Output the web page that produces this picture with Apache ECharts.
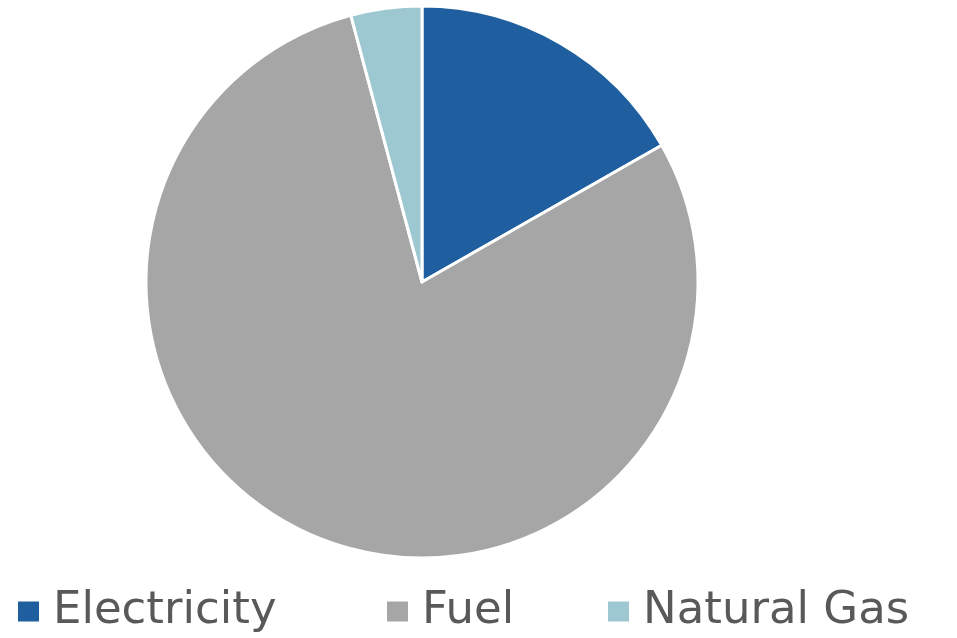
<!DOCTYPE html>
<html>
<head>
<meta charset="utf-8">
<script src="https://cdn.jsdelivr.net/npm/echarts@6/dist/echarts.min.js"></script>
<style>
  html, body { margin: 0; padding: 0; background: #fff; }
  #main { width: 957px; height: 638px; }
</style>
</head>
<body>
<div id="main"></div>
<script>
const categories = ['Electricity', 'Fuel', 'Natural Gas'];
const shares = [16.75, 79.1, 4.15];
const colors = ['#1F5F9F', '#A6A6A6', '#9DC8D1'];
// x position of each legend marker
const legendLeft = [16, 385, 606];

const chart = echarts.init(document.getElementById('main'));

const legends = categories.map((name, i) => ({
    data: [name],
    left: legendLeft[i],
    top: 589,
    padding: 0,
    itemWidth: 23,
    itemHeight: 22,
    icon: 'rect',
    textStyle: {
        fontFamily: 'DejaVu Sans',
        fontSize: 45,
        color: '#595959',
        padding: [0, 0, 0, 8]
    }
}));

const option = {
    animation: false,
    color: colors,
    legend: legends,
    series: [
        {
            type: 'pie',
            center: [422, 282],
            radius: 276,
            startAngle: 90,
            clockwise: true,
            label: { show: false },
            labelLine: { show: false },
            itemStyle: {
                borderColor: '#fff',
                borderWidth: 3
            },
            data: categories.map((name, i) => ({ name: name, value: shares[i] }))
        }
    ]
};

chart.setOption(option);
</script>
</body>
</html>
